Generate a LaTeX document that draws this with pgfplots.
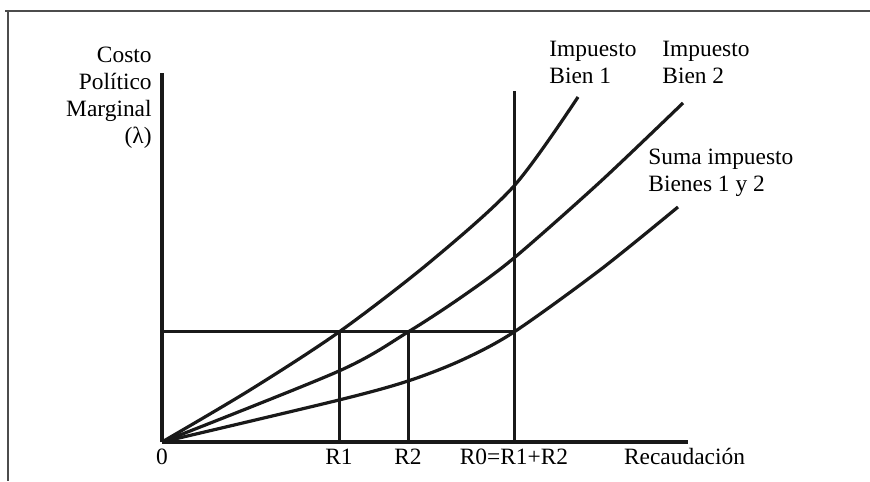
\documentclass[border=0pt]{standalone}
\usepackage{fontspec}
\setmainfont{Liberation Serif}
\usepackage{pgfplots}
\pgfplotsset{compat=1.18}
\newcommand\lab{\fontsize{11.7}{13.5}\selectfont}

\begin{document}
\begin{tikzpicture}[x=0.5pt,y=0.5pt]
  \useasboundingbox (0,0) rectangle (870,481);
  % marco de la figura
  \draw[gray!60!black, line width=0.6pt] (5,470) -- (870,470);
  \draw[gray!60!black, line width=0.6pt] (8,470) -- (8,0);

  \begin{axis}[
      at={(81pt,19.5pt)}, anchor=south west,
      scale only axis,
      width=263pt, height=184.5pt,
      xmin=0, xmax=526, ymin=0, ymax=369,
      axis lines=left,
      axis line style={-, line width=1.7pt, black!90},
      ytick=\empty,
      xtick={0,177,246,352,522.5},
      xticklabels={0,R1,R2,R0=R1+R2,Recaudación},
      major tick length=0pt,
      xticklabel style={font=\lab, anchor=base, inner sep=0pt, yshift=-11pt, text=black},
      clip=false,
      every axis plot/.append style={line width=1.6pt, black!90},
    ]
    % curvas de costo politico marginal
    \addplot[smooth] coordinates {(0,0) (88,52) (177,110) (268,180) (352,256) (416,345)};
    \addplot[smooth] coordinates {(0,0) (177,71) (246,110) (301,146) (352,184) (438,260) (521,339)};
    \addplot[smooth] coordinates {(0,0) (177,42) (246,61) (300,82) (352,110) (438,172) (516,235)};
    % lambda comun y recaudaciones
    \addplot[line width=1.5pt] coordinates {(0,110) (352,110)};
    \addplot[line width=1.5pt] coordinates {(177,0) (177,110)};
    \addplot[line width=1.5pt] coordinates {(246,0) (246,110)};
    \addplot[line width=1.5pt] coordinates {(352,0) (352,351)};

    \node[font=\lab, anchor=north east, align=right, inner sep=0pt]
      at (axis cs:-10,395) {Costo\\Político\\Marginal\\(λ)};
    \node[font=\lab, anchor=base west, align=left, inner sep=0pt]
      at (axis cs:387,358) {Impuesto\\Bien 1};
    \node[font=\lab, anchor=base west, align=left, inner sep=0pt]
      at (axis cs:500,358) {Impuesto\\Bien 2};
    \node[font=\lab, anchor=base west, align=left, inner sep=0pt]
      at (axis cs:486,250) {Suma impuesto\\Bienes 1 y 2};
  \end{axis}
\end{tikzpicture}
\end{document}
